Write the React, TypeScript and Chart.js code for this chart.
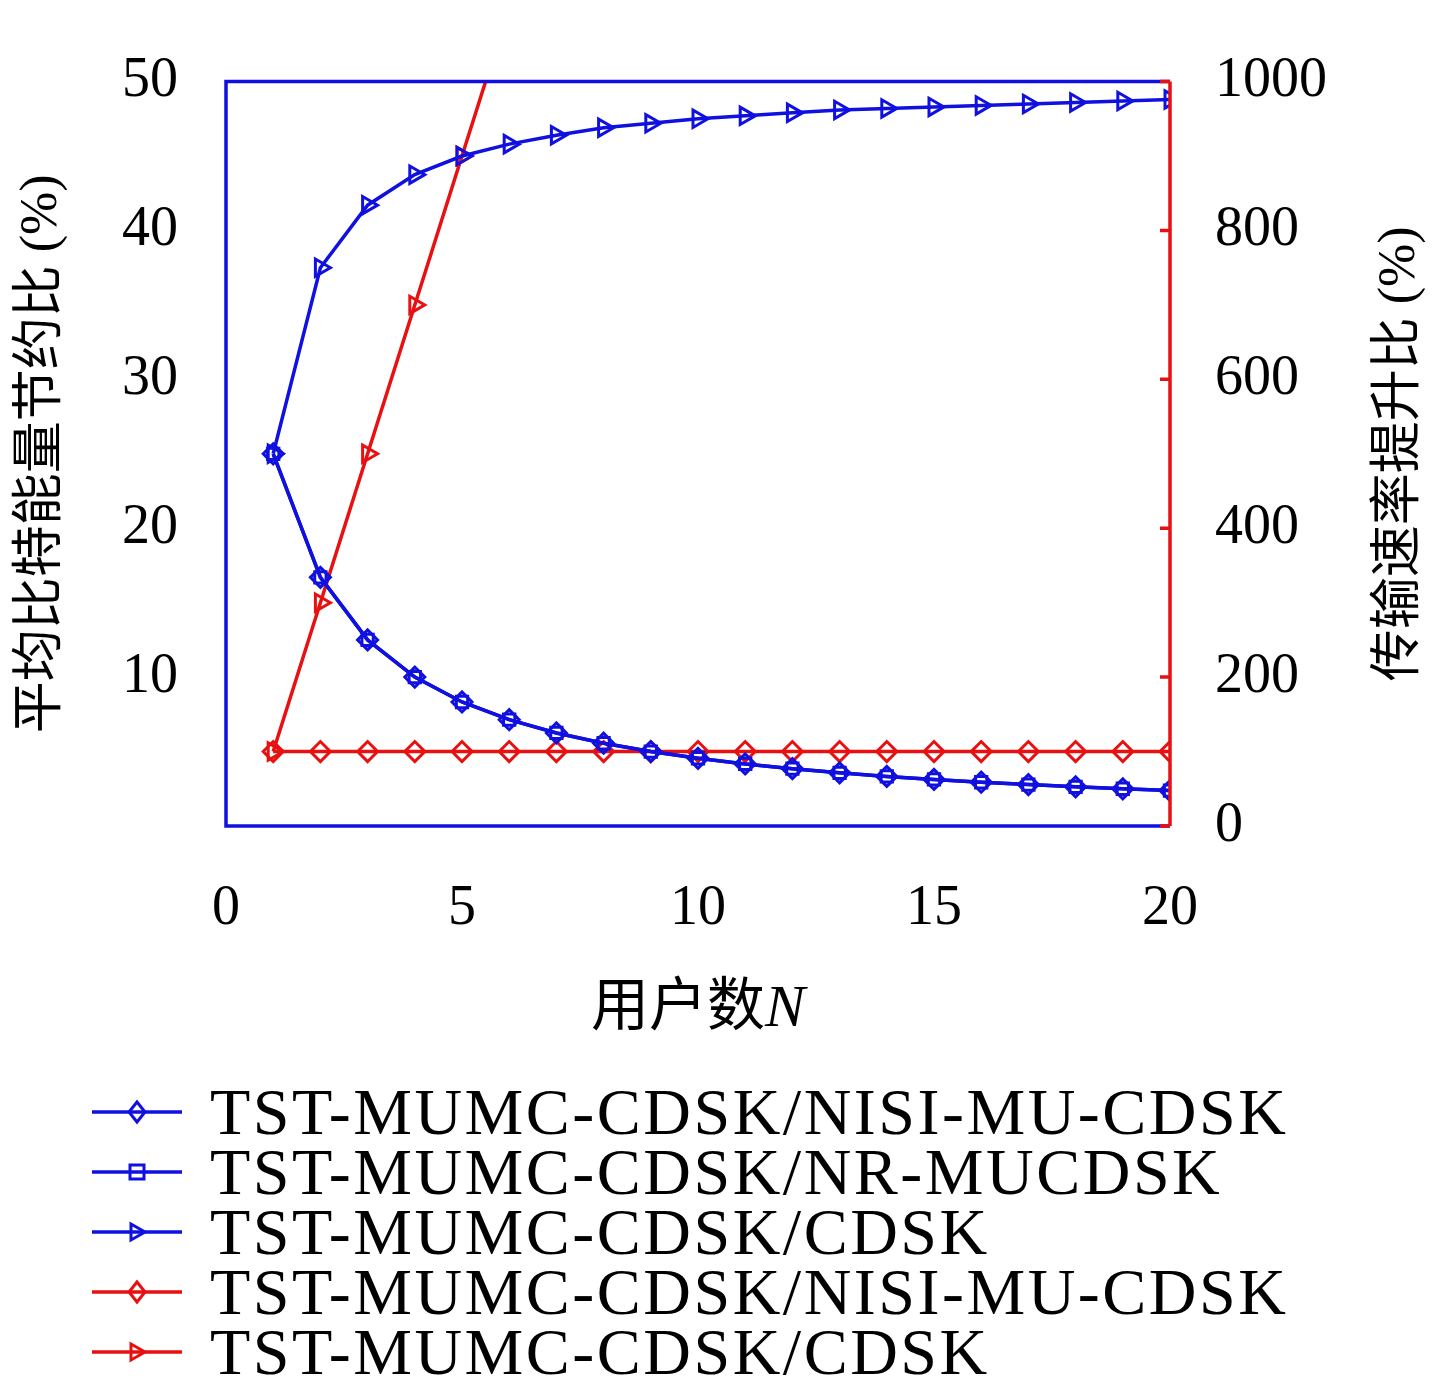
import React, { useEffect, useRef } from "react";
import { Chart, registerables } from "chart.js";
Chart.register(...registerables);

const users = [1,2,3,4,5,6,7,8,9,10,11,12,13,14,15,16,17,18,19,20];
const energyNisi = [25,16.7,12.5,10,8.33,7.14,6.25,5.56,5,4.55,4.17,3.85,3.57,3.33,3.13,2.94,2.78,2.63,2.5,2.38];
const energyNr = [25,16.7,12.5,10,8.33,7.14,6.25,5.56,5,4.55,4.17,3.85,3.57,3.33,3.13,2.94,2.78,2.63,2.5,2.38];
const energyCdsk = [25,37.5,41.7,43.75,45,45.8,46.4,46.9,47.2,47.5,47.7,47.9,48.1,48.2,48.3,48.4,48.5,48.6,48.7,48.8];
const rateNisi = [100,100,100,100,100,100,100,100,100,100,100,100,100,100,100,100,100,100,100,100];
const rateCdsk = [100,300,500,700,900,1100,1300,1500,1700,1900,2100,2300,2500,2700,2900,3100,3300,3500,3700,3900];
const xTicks = [0,5,10,15,20];

const BLUE = "#1010e0";
const RED = "#e81010";
const FONT = "'Liberation Serif', 'Noto Sans CJK SC', serif";

const legendItems = [
  { label: "TST-MUMC-CDSK/NISI-MU-CDSK", color: BLUE, marker: "diamond" },
  { label: "TST-MUMC-CDSK/NR-MUCDSK", color: BLUE, marker: "square" },
  { label: "TST-MUMC-CDSK/CDSK", color: BLUE, marker: "tri" },
  { label: "TST-MUMC-CDSK/NISI-MU-CDSK", color: RED, marker: "diamond" },
  { label: "TST-MUMC-CDSK/CDSK", color: RED, marker: "tri" },
];

function Marker({ kind, color }: { kind: string; color: string }) {
  let shape;
  if (kind === "diamond") shape = <polygon points="45,20 53,30 45,40 37,30" fill="none" stroke={color} strokeWidth={3} />;
  else if (kind === "square") shape = <rect x={38} y={23} width={14} height={14} fill="none" stroke={color} strokeWidth={3} />;
  else shape = <polygon points="39,22 53,30 39,38" fill="none" stroke={color} strokeWidth={3} />;
  return (
    <svg width={92} height={60} style={{ display: "block" }}>
      <line x1={0} y1={30} x2={90} y2={30} stroke={color} strokeWidth={3.5} />
      {shape}
    </svg>
  );
}

export default function App() {
  const ref = useRef<HTMLCanvasElement>(null);
  useEffect(() => {
    document.body.style.margin = "0";
    const ds = (label: string, data: number[], color: string, style: any, axis: string, rot = 0) => ({
      label,
      data: users.map((u, i) => ({ x: u, y: data[i] })),
      borderColor: color,
      backgroundColor: "transparent",
      pointBorderColor: color,
      pointBackgroundColor: "transparent",
      pointStyle: style,
      pointRotation: rot,
      pointRadius: style === "rect" ? 8 : 10,
      pointBorderWidth: 3,
      borderWidth: 3.5,
      yAxisID: axis,
    });
    const deco = {
      id: "deco",
      afterDraw(c: any) {
        const { ctx, chartArea: a, scales } = c;
        ctx.save();
        ctx.lineWidth = 3.5;
        ctx.strokeStyle = BLUE;
        ctx.beginPath();
        ctx.moveTo(a.right, a.top); ctx.lineTo(a.left, a.top); ctx.lineTo(a.left, a.bottom); ctx.lineTo(a.right, a.bottom);
        ctx.stroke();
        ctx.strokeStyle = RED;
        ctx.beginPath();
        ctx.moveTo(a.right, a.top); ctx.lineTo(a.right, a.bottom);
        for (const t of scales.y2.ticks) {
          const py = scales.y2.getPixelForValue(t.value);
          ctx.moveTo(a.right, py); ctx.lineTo(a.right - 10, py);
        }
        ctx.stroke();
        ctx.fillStyle = "#000";
        ctx.textBaseline = "middle";
        const cx = (a.left + a.right) / 2;
        const t1 = "用户数";
        ctx.font = `italic 60px ${FONT}`;
        const wN = ctx.measureText("N").width;
        ctx.font = `58px ${FONT}`;
        const w1 = ctx.measureText(t1).width;
        const sx = cx - (w1 + wN) / 2;
        ctx.textAlign = "left";
        ctx.fillText(t1, sx, 1010);
        ctx.font = `italic 60px ${FONT}`;
        ctx.fillText("N", sx + w1, 1010);
        ctx.font = `52px ${FONT}`;
        ctx.textAlign = "center";
        const cy = (a.top + a.bottom) / 2;
        ctx.save(); ctx.translate(42, cy); ctx.rotate(-Math.PI / 2);
        ctx.fillText("平均比特能量节约比 (%)", 0, 0); ctx.restore();
        ctx.save(); ctx.translate(1400, cy); ctx.rotate(-Math.PI / 2);
        ctx.fillText("传输速率提升比 (%)", 0, 0); ctx.restore();
        ctx.restore();
      },
    };
    const chart = new Chart(ref.current!, {
      type: "line",
      data: {
        datasets: [
          ds("a", energyNisi, BLUE, "rectRot", "y"),
          ds("b", energyNr, BLUE, "rect", "y"),
          ds("c", energyCdsk, BLUE, "triangle", "y", 90),
          ds("d", rateNisi, RED, "rectRot", "y2"),
          ds("e", rateCdsk, RED, "triangle", "y2", 90),
        ] as any,
      },
      options: {
        animation: false,
        responsive: false,
        layout: { padding: { top: -36, right: 0, left: 0, bottom: 0 } },
        plugins: { legend: { display: false }, tooltip: { enabled: false } },
        scales: {
          x: {
            type: "linear", min: 0, max: 20,
            afterBuildTicks: (s: any) => { s.ticks = xTicks.map((v) => ({ value: v })); },
            grid: { display: false, drawTicks: false },
            border: { display: false },
            ticks: { padding: 50, color: "#000", font: { family: FONT, size: 56 } },
            afterFit: (s: any) => { s.height = 1060 - 826; },
          },
          y: {
            position: "left", min: 0, max: 50,
            ticks: { stepSize: 10, padding: 48, color: "#000", font: { family: FONT, size: 56 },
              callback: (v: any) => (v === 0 ? "" : String(v)) },
            grid: { display: false, drawTicks: false },
            border: { display: false },
            afterFit: (s: any) => { s.width = 226; },
          },
          y2: {
            position: "right", min: 0, max: 1000,
            ticks: { stepSize: 200, padding: 45, color: "#000", font: { family: FONT, size: 56 },
              callback: (v: any) => String(v) },
            grid: { display: false, drawTicks: false },
            border: { display: false },
            afterFit: (s: any) => { s.width = 1436 - 1170; },
          },
        },
      } as any,
      plugins: [deco],
    });
    return () => chart.destroy();
  }, []);
  return (
    <div style={{ position: "relative", width: 1436, height: 1392, background: "#fff" }}>
      <canvas ref={ref} width={1436} height={1060} style={{ display: "block" }} />
      <div style={{ position: "absolute", left: 92, top: 1082 }}>
        {legendItems.map((it, i) => (
          <div key={i} style={{ display: "flex", alignItems: "center", height: 60 }}>
            <Marker kind={it.marker} color={it.color} />
            <span style={{ marginLeft: 26, fontFamily: FONT, fontSize: 66, letterSpacing: "2.5px", lineHeight: "60px", color: "#000" }}>{it.label}</span>
          </div>
        ))}
      </div>
    </div>
  );
}
